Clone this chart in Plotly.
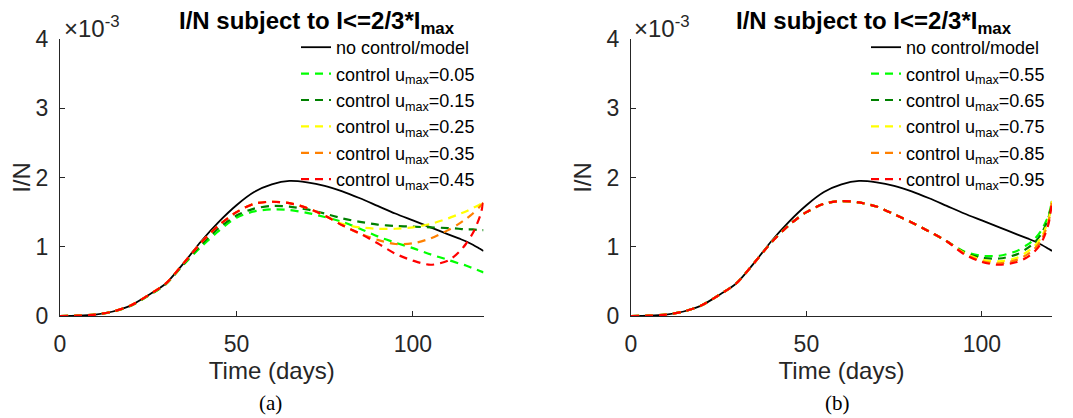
import plotly.graph_objects as go

# Time grid (days)
t_days = [0, 5, 10, 15, 20, 25, 30, 35, 40, 45, 50, 55, 60, 65, 70, 75, 80, 85,
          90, 95, 100, 105, 110, 113, 115, 117, 119, 120]

# I/N values in units of 1e-3
no_control = [0, 0.004, 0.02, 0.065, 0.15, 0.30, 0.47, 0.76, 1.08, 1.36,
              1.60, 1.79, 1.90, 1.95, 1.93, 1.88, 1.80, 1.70, 1.59, 1.48,
              1.38, 1.28, 1.18, 1.12, 1.08, 1.03, 0.97, 0.94]

# Panel (a)
u_005 = [0, 0.004, 0.02, 0.063, 0.145, 0.29, 0.46, 0.74, 1.00, 1.23,
         1.42, 1.51, 1.54, 1.53, 1.49, 1.43, 1.36, 1.26, 1.15, 1.06,
         0.98, 0.89, 0.81, 0.76, 0.73, 0.69, 0.65, 0.63]
u_015 = [0, 0.004, 0.02, 0.064, 0.148, 0.295, 0.465, 0.75, 1.03, 1.27,
         1.45, 1.55, 1.59, 1.58, 1.54, 1.48, 1.41, 1.36, 1.32, 1.30,
         1.29, 1.28, 1.27, 1.26, 1.25, 1.25, 1.24, 1.24]
u_025 = [0, 0.004, 0.02, 0.065, 0.15, 0.30, 0.47, 0.76, 1.06, 1.31,
         1.50, 1.62, 1.65, 1.63, 1.56, 1.45, 1.33, 1.28, 1.26, 1.26,
         1.28, 1.33, 1.41, 1.47, 1.51, 1.56, 1.61, 1.64]
u_035 = [0, 0.004, 0.02, 0.065, 0.15, 0.30, 0.47, 0.76, 1.06, 1.31,
         1.50, 1.62, 1.65, 1.63, 1.56, 1.45, 1.31, 1.19, 1.10, 1.04,
         1.05, 1.12, 1.24, 1.33, 1.40, 1.48, 1.58, 1.64]
u_045 = [0, 0.004, 0.02, 0.065, 0.15, 0.30, 0.47, 0.76, 1.06, 1.31,
         1.50, 1.62, 1.65, 1.63, 1.56, 1.45, 1.31, 1.19, 1.05, 0.90,
         0.80, 0.74, 0.80, 0.92, 1.04, 1.20, 1.44, 1.65]

# Panel (b)
u_055 = [0, 0.004, 0.02, 0.065, 0.15, 0.30, 0.47, 0.76, 1.06, 1.31,
         1.50, 1.62, 1.66, 1.64, 1.58, 1.47, 1.35, 1.22, 1.08, 0.93,
         0.87, 0.87, 0.94, 1.03, 1.11, 1.24, 1.45, 1.66]
u_065 = [0, 0.004, 0.02, 0.065, 0.15, 0.30, 0.47, 0.76, 1.06, 1.31,
         1.50, 1.62, 1.66, 1.64, 1.58, 1.47, 1.35, 1.22, 1.08, 0.92,
         0.84, 0.83, 0.89, 0.98, 1.06, 1.19, 1.42, 1.66]
u_075 = [0, 0.004, 0.02, 0.065, 0.15, 0.30, 0.47, 0.76, 1.06, 1.31,
         1.50, 1.62, 1.66, 1.64, 1.58, 1.47, 1.35, 1.22, 1.08, 0.91,
         0.81, 0.79, 0.84, 0.93, 1.01, 1.14, 1.39, 1.66]
u_085 = [0, 0.004, 0.02, 0.065, 0.15, 0.30, 0.47, 0.76, 1.06, 1.31,
         1.50, 1.62, 1.66, 1.64, 1.58, 1.47, 1.35, 1.22, 1.08, 0.90,
         0.79, 0.76, 0.81, 0.89, 0.97, 1.10, 1.36, 1.66]
u_095 = [0, 0.004, 0.02, 0.065, 0.15, 0.30, 0.47, 0.76, 1.06, 1.31,
         1.50, 1.62, 1.66, 1.64, 1.58, 1.47, 1.35, 1.22, 1.08, 0.89,
         0.78, 0.74, 0.78, 0.85, 0.93, 1.06, 1.33, 1.66]

labels_a = ["0.05", "0.15", "0.25", "0.35", "0.45"]
labels_b = ["0.55", "0.65", "0.75", "0.85", "0.95"]
colors = ["#00FF00", "#008000", "#FFFF00", "#FF8000", "#FF0000"]
x_ticks = [0, 50, 100]
y_ticks = [0, 1, 2, 3, 4]

FONT = "Liberation Sans, Arial, Helvetica, sans-serif"
AX = "rgb(38,38,38)"

# The page body has an 8px margin on top/left; the figure fills the rest.
OFF = 8
W, H = 1073 - OFF, 418 - OFF


def xp(px):
    return (px - OFF) / W


def yp(py):
    return 1 - (py - OFF) / H


fig = go.Figure()


def add_panel(series, labels, xa, ya, leg):
    fig.add_trace(go.Scatter(
        x=t_days, y=no_control, mode="lines", name="no control/model",
        line=dict(color="black", width=1.8, shape="spline", smoothing=0.8),
        xaxis=xa, yaxis=ya, legend=leg))
    for s, lab, c in zip(series, labels, colors):
        fig.add_trace(go.Scatter(
            x=t_days, y=s, mode="lines",
            name="control u<sub>max</sub>=" + lab,
            line=dict(color=c, width=2.2, dash="8px,6px", shape="spline", smoothing=0.8),
            xaxis=xa, yaxis=ya, legend=leg))


add_panel([u_005, u_015, u_025, u_035, u_045], labels_a, "x", "y", "legend")
add_panel([u_055, u_065, u_075, u_085, u_095], labels_b, "x2", "y2", "legend2")

y_dom = [yp(316), yp(39)]


def xaxis(dom, anchor):
    return dict(domain=dom, anchor=anchor, range=[0, 120], tickvals=x_ticks,
                ticks="inside", ticklen=5, tickcolor=AX, showline=True,
                linecolor=AX, linewidth=1, showgrid=False, zeroline=False,
                automargin=False,
                tickfont=dict(family=FONT, size=23, color=AX),
                ticklabelstandoff=7,
                title=dict(text="Time (days)", font=dict(family=FONT, size=24, color=AX),
                           standoff=0))


def yaxis(anchor):
    return dict(domain=y_dom, anchor=anchor, range=[0, 4], tickvals=y_ticks,
                ticks="inside", ticklen=5, tickcolor=AX, showline=True,
                linecolor=AX, linewidth=1, showgrid=False, zeroline=False,
                automargin=False,
                tickfont=dict(family=FONT, size=23, color=AX),
                ticklabelstandoff=6,
                title=dict(text="I/N", font=dict(family=FONT, size=24, color=AX),
                           standoff=8))


legend_common = dict(xanchor="left", yanchor="top", bgcolor="rgba(0,0,0,0)",
                     font=dict(family=FONT, size=18, color="black"),
                     tracegroupgap=0, borderwidth=0)

fig.update_layout(
    width=W, height=H,
    margin=dict(l=0, r=0, t=0, b=0, autoexpand=False),
    paper_bgcolor="white", plot_bgcolor="white",
    xaxis=xaxis([xp(60), xp(483.5)], "y"),
    yaxis=yaxis("x"),
    xaxis2=xaxis([xp(631), xp(1052)], "y2"),
    yaxis2=yaxis("x2"),
    legend=dict(x=xp(296), y=yp(29), **legend_common),
    legend2=dict(x=xp(866), y=yp(29), **legend_common),
    showlegend=True,
)

title_txt = "<b>I/N subject to I&lt;=2/3*I<sub>max</sub></b>"
for cx, lab_x, cap_x, cap in [(317, 62, 270, "(a)"), (874, 632, 837, "(b)")]:
    fig.add_annotation(x=xp(cx), y=yp(5), xref="paper", yref="paper",
                       xanchor="center", yanchor="top", showarrow=False,
                       text=title_txt, font=dict(family=FONT, size=24, color="black"))
    fig.add_annotation(x=xp(lab_x), y=yp(10), xref="paper", yref="paper",
                       xanchor="left", yanchor="top", showarrow=False,
                       text="×10<sup>-3</sup>", font=dict(family=FONT, size=24, color=AX))
    fig.add_annotation(x=xp(cap_x), y=yp(403), xref="paper", yref="paper",
                       xanchor="center", yanchor="middle", showarrow=False,
                       text=cap, font=dict(family="Liberation Serif, Times New Roman, serif",
                                           size=21, color="black"))

fig.write_html("out.html")
